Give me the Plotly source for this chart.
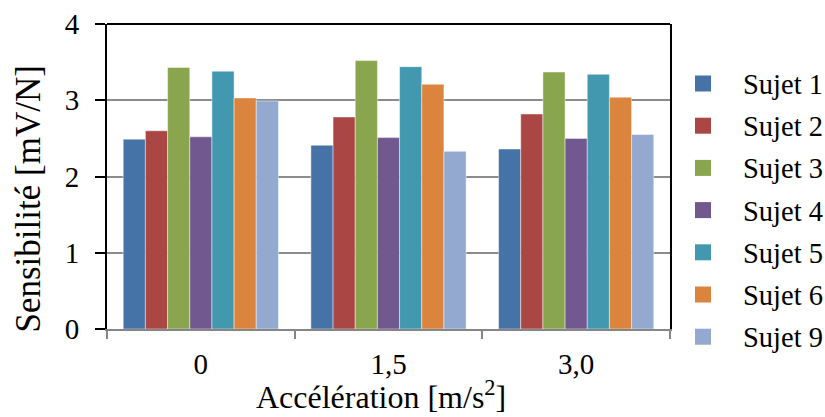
import plotly.graph_objects as go

# Accélération levels (category labels on the x axis)
accelerations = ["0", "1,5", "3,0"]

# Sensibilité [mV/N] per subject, one value per acceleration level
sujet_1 = [2.49, 2.41, 2.36]
sujet_2 = [2.60, 2.78, 2.82]
sujet_3 = [3.43, 3.52, 3.37]
sujet_4 = [2.52, 2.51, 2.50]
sujet_5 = [3.38, 3.44, 3.34]
sujet_6 = [3.03, 3.21, 3.04]
sujet_9 = [2.99, 2.33, 2.55]

series_names = ["Sujet 1", "Sujet 2", "Sujet 3", "Sujet 4", "Sujet 5", "Sujet 6", "Sujet 9"]
series_values = [sujet_1, sujet_2, sujet_3, sujet_4, sujet_5, sujet_6, sujet_9]
series_colors = ["#4572A7", "#AA4643", "#89A54E", "#71588F", "#4198AF", "#DB843D", "#93A9CF"]

FONT = "Liberation Serif, Times New Roman, serif"

W, H = 825, 417
# plot area edges in pixels (left, right, top, bottom)
P_L, P_R, P_T, P_B = 107, 670, 24, 329


def fx(px):
    """Horizontal pixel -> paper fraction (paper = whole figure)."""
    return px / W


def fy(py):
    """Vertical pixel (from top) -> paper fraction."""
    return (H - py) / H


fig = go.Figure()
for name, vals, col in zip(series_names, series_values, series_colors):
    fig.add_trace(go.Bar(
        name=name,
        x=accelerations,
        y=vals,
        showlegend=False,
        marker=dict(color=col, line=dict(color="rgba(255,255,255,0.45)", width=1)),
    ))

# top border of the plot area
shapes = [
    dict(type="line", xref="x domain", yref="y domain", x0=0, x1=1, y0=1, y1=1,
         line=dict(color="black", width=2)),
]
annotations = []

# Legend on the right: a colour key square and the subject name per row
ROW0, ROW_STEP = 83.5, 42.2
for i, (name, col) in enumerate(zip(series_names, series_colors)):
    cy = ROW0 + i * ROW_STEP
    shapes.append(dict(
        type="rect", xref="paper", yref="paper",
        x0=fx(695), x1=fx(711), y0=fy(cy + 8), y1=fy(cy - 8),
        fillcolor=col, line=dict(width=0),
    ))
    annotations.append(dict(
        text=name, xref="paper", yref="paper",
        x=fx(741), y=fy(cy + 1), xanchor="left", yanchor="middle",
        showarrow=False, font=dict(family=FONT, size=28.5, color="black"),
    ))

# Axis titles
annotations += [
    dict(text="Accélération [m/s<sup>2</sup>]", xref="paper", yref="paper",
         x=fx(381), y=0, xanchor="center", yanchor="bottom",
         showarrow=False, font=dict(family=FONT, size=32)),
    dict(text="Sensibilité [mV/N]", xref="paper", yref="paper",
         x=fx(27.5), y=fy(199), xanchor="center", yanchor="middle",
         textangle=-90, showarrow=False, font=dict(family=FONT, size=35)),
]

fig.update_layout(
    width=W,
    height=H,
    margin=dict(l=0, r=0, t=0, b=0, autoexpand=False),
    paper_bgcolor="white",
    plot_bgcolor="white",
    barmode="group",
    bargap=0.173,
    bargroupgap=0,
    showlegend=False,
    font=dict(family=FONT, size=29, color="black"),
    xaxis=dict(
        domain=[fx(P_L), fx(P_R)],
        type="category",
        showline=True, linecolor="#868686", linewidth=2,
        ticks="outside", tickson="boundaries", ticklen=8, tickcolor="#868686", tickwidth=2,
        tickfont=dict(family=FONT, size=29),
        ticklabelstandoff=8,
        showgrid=False,
    ),
    yaxis=dict(
        domain=[fy(P_B), fy(P_T)],
        range=[0, 4],
        dtick=1,
        showline=True, linecolor="black", linewidth=2, mirror=True,
        ticks="outside", ticklen=10, tickcolor="black", tickwidth=2,
        tickfont=dict(family=FONT, size=29),
        ticklabelstandoff=10,
        showgrid=True, gridcolor="#8C8C8C", gridwidth=2,
        zeroline=False,
    ),
    shapes=shapes,
    annotations=annotations,
)

fig.write_html("out.html")
